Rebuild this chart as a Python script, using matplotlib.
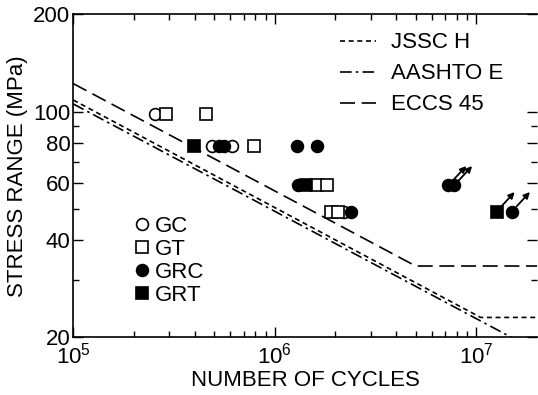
import matplotlib
matplotlib.use('Agg')
import matplotlib.pyplot as plt
from matplotlib.lines import Line2D

plt.rcParams['font.family'] = ['Liberation Sans', 'DejaVu Sans']
plt.rcParams['mathtext.default'] = 'regular'
plt.rcParams['font.size'] = 16

# test results: cycles to failure and stress range (MPa)
gc_n = [2.53e5, 4.9e5, 6.1e5, 2.2e6]
gc_s = [98, 78, 78, 49]
gt_n = [2.88e5, 4.56e5, 7.9e5, 1.61e6, 1.82e6, 1.9e6, 2.06e6]
gt_s = [98, 98, 78, 59, 59, 49, 49]
grc_n = [5.3e5, 5.6e5, 1.29e6, 1.62e6, 1.30e6, 2.39e6, 7.25e6, 7.75e6, 1.5e7]
grc_s = [78, 78, 78, 78, 59, 49, 59, 59, 49]
grt_n = [3.98e5, 1.43e6, 1.26e7]
grt_s = [78, 59, 49]

# specimens that did not fail
runout_n = [7.25e6, 7.75e6, 1.26e7, 1.5e7]
runout_s = [59, 59, 49, 49]

# design curves (breakpoints)
jssc_n = [1e5, 1.05e7, 2e7]
jssc_s = [108.6, 23, 23]
aashto_n = [1e5, 2e7]
aashto_s = [105.6, 18.1]
eccs_n = [1e5, 5e6, 2e7]
eccs_s = [122.1, 33.2, 33.2]

fig = plt.figure(figsize=(5.38, 3.95), dpi=100)
ax = fig.add_axes([0.1362, 0.1468, 0.862, 0.8165])

l1, = ax.plot(jssc_n, jssc_s, color='black', lw=1.2, dashes=(3, 2.2), label='JSSC H')
l2, = ax.plot(aashto_n, aashto_s, color='black', lw=1.2, dashes=(7, 2.5, 1.5, 2.5), label='AASHTO E')
l3, = ax.plot(eccs_n, eccs_s, color='black', lw=1.2, dashes=(9, 4), label='ECCS 45')

mk = dict(ms=8.5, ls='none', color='black', mew=1.2)
ax.plot(gc_n, gc_s, marker='o', mfc='white', **mk)
ax.plot(gt_n, gt_s, marker='s', mfc='white', **mk)
ax.plot(grc_n, grc_s, marker='o', mfc='black', **mk)
ax.plot(grt_n, grt_s, marker='s', mfc='black', **mk)

for n, s in zip(runout_n, runout_s):
    ax.annotate('', xy=(n, s), xytext=(13, 14), textcoords='offset points',
                arrowprops=dict(arrowstyle='<|-', color='black', lw=1.3,
                                mutation_scale=9, shrinkA=0, shrinkB=5))

ax.set_xscale('log')
ax.set_yscale('log')
ax.set_xlim(1e5, 2e7)
ax.set_ylim(20, 200)

ax.set_xticks([1e5, 1e6, 1e7])
ax.set_xticklabels(['$10^5$', '$10^6$', '$10^7$'])
ax.set_xticks([m * 10 ** e for e in (5, 6, 7) for m in range(2, 10) if m * 10 ** e < 2e7], minor=True)
ax.set_yticks([20, 40, 60, 80, 100, 200])
ax.set_yticklabels(['20', '40', '60', '80', '100', '200'])
ax.set_yticks([30, 50, 70, 90], minor=True)
ax.yaxis.set_minor_formatter(plt.NullFormatter())
ax.xaxis.set_minor_formatter(plt.NullFormatter())

ax.tick_params(which='both', direction='in', top=True, right=True, width=1)
ax.tick_params(which='major', length=7, pad=2)
ax.tick_params(which='minor', length=4)
ax.tick_params(axis='x', which='major', pad=4)
for sp in ax.spines.values():
    sp.set_linewidth(1.2)
ax.spines['right'].set_visible(False)

ax.set_xlabel('NUMBER OF CYCLES', labelpad=1)
ax.set_ylabel('STRESS RANGE (MPa)', labelpad=4)

leg1 = ax.legend(handles=[l1, l2, l3], loc='upper right', bbox_to_anchor=(0.947, 0.972),
                 frameon=False, handlelength=1.6, handletextpad=0.7, labelspacing=0.45,
                 borderaxespad=0)
ax.add_artist(leg1)

mh = [Line2D([], [], marker='o', mfc='white', **mk),
      Line2D([], [], marker='s', mfc='white', **mk),
      Line2D([], [], marker='o', mfc='black', **mk),
      Line2D([], [], marker='s', mfc='black', **mk)]
ax.legend(handles=mh, labels=['GC', 'GT', 'GRC', 'GRT'], loc='lower left',
          bbox_to_anchor=(0.115, 0.068), frameon=False, handlelength=0.6,
          handletextpad=0.25, labelspacing=0.1, borderaxespad=0)

fig.savefig('out.png', dpi=100)
